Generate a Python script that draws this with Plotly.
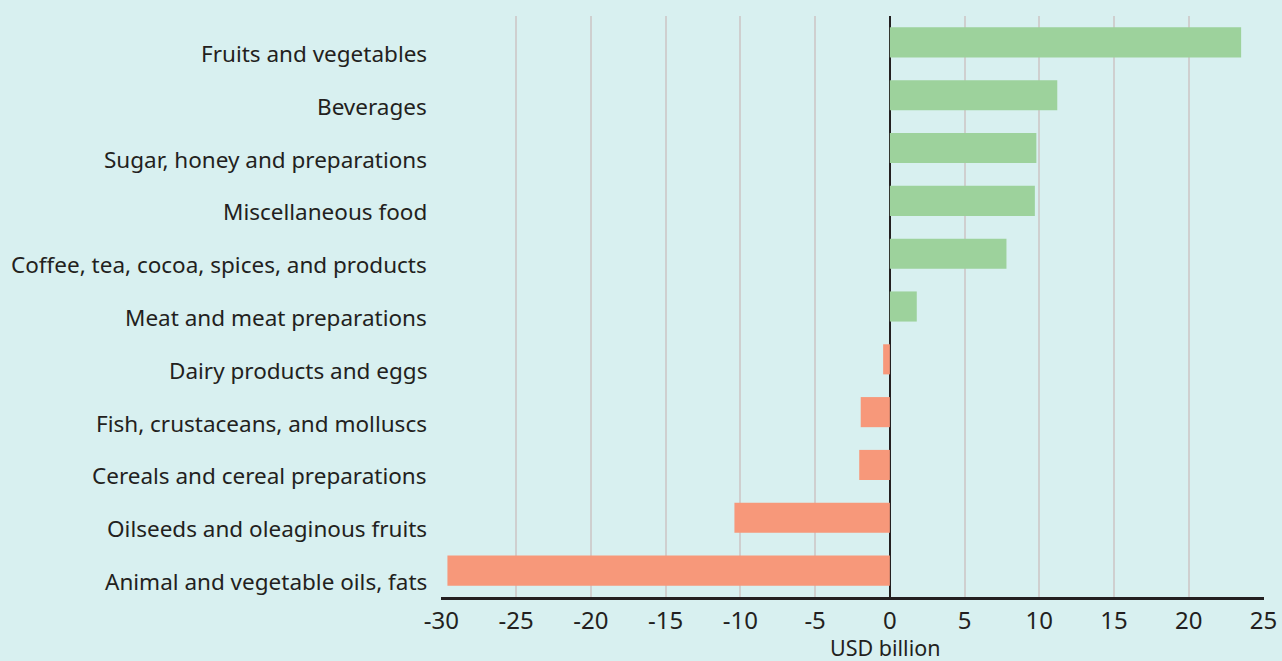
import plotly.graph_objects as go

categories = [
    "Fruits and vegetables",
    "Beverages",
    "Sugar, honey and preparations ",
    "Miscellaneous food",
    "Coffee, tea, cocoa, spices, and products",
    "Meat and meat preparations",
    "Dairy products and eggs",
    "Fish, crustaceans, and molluscs ",
    "Cereals and cereal preparations",
    "Oilseeds and oleaginous fruits",
    "Animal and vegetable oils, fats",
]
values = [23.5, 11.2, 9.8, 9.7, 7.8, 1.8, -0.45, -1.95, -2.05, -10.4, -29.6]
tick_vals = [-30, -25, -20, -15, -10, -5, 0, 5, 10, 15, 20, 25]

GREEN = "#9dd29c"
SALMON = "#f7987a"
BG = "#d8f0f0"
FONT = "Noto Sans"

colors = [GREEN if v >= 0 else SALMON for v in values]

fig = go.Figure()
fig.add_trace(go.Bar(
    y=categories, x=values, orientation="h",
    marker=dict(color=colors, line=dict(width=0)),
    width=0.57, hoverinfo="x+y",
))

for c in categories:
    fig.add_annotation(
        x=0, xref="paper", y=c, yref="y", text=c.rstrip(),
        xanchor="right", yanchor="middle", showarrow=False,
        xshift=-12, yshift=-11,
        font=dict(family=FONT, size=22.5, color="#231f20"),
    )

fig.add_annotation(
    x=0, xref="x", y=0, yref="paper", text="USD billion",
    xanchor="center", yanchor="top", showarrow=False,
    xshift=-4, yshift=-34,
    font=dict(family=FONT, size=21.5, color="#231f20"),
)

fig.update_layout(
    width=1282, height=661,
    margin=dict(l=441, r=18, t=16, b=64),
    paper_bgcolor=BG, plot_bgcolor=BG,
    showlegend=False,
    font=dict(family=FONT, color="#231f20"),
    xaxis=dict(
        range=[-30.03, 25.03], tickvals=tick_vals,
        ticktext=[str(t) for t in tick_vals],
        showgrid=True, gridcolor="#cfcfcf", gridwidth=2,
        zeroline=True, zerolinecolor="#231f20", zerolinewidth=2,
        showline=True, linecolor="#231f20", linewidth=3,
        ticks="", tickfont=dict(family=FONT, size=24, color="#231f20"),
        fixedrange=True, automargin=False, ticklabeloverflow="allow",
    ),
    yaxis=dict(
        categoryorder="array", categoryarray=categories[::-1],
        range=[-0.5, len(categories) - 0.5],
        showticklabels=False, showgrid=False, zeroline=False,
        showline=False, ticks="", fixedrange=True, automargin=False,
    ),
)

fig.write_html(
    "out.html",
    config={"displayModeBar": False},
    post_script="document.body.style.margin='0';document.body.style.overflow='hidden';",
)
